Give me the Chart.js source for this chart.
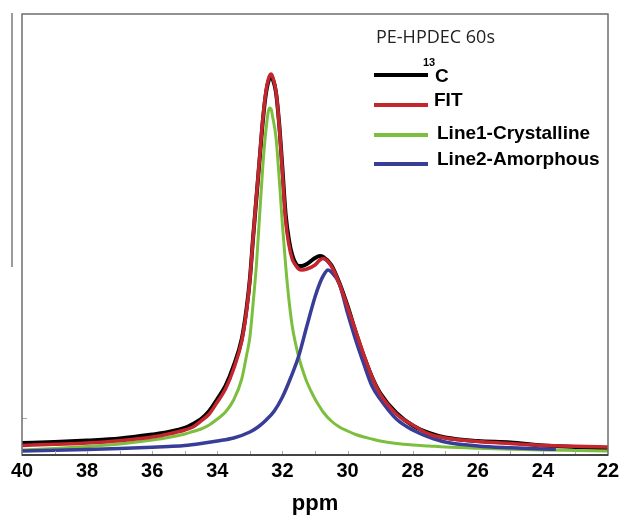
<!DOCTYPE html>
<html>
<head>
<meta charset="utf-8">
<script src="https://cdn.jsdelivr.net/npm/chart.js@4.4.0/dist/chart.umd.min.js"></script>
<style>
  body { margin: 0; background: #fff; }
  canvas { display: block; }
</style>
</head>
<body>
<canvas id="nmrChart" width="620" height="519"></canvas>
<script>
// chemical shift positions (ppm) and intensities (arbitrary units)
const ppmGrid = [40, 39, 38, 37, 36, 35.5, 35, 34.75, 34.5, 34.25, 34, 33.75, 33.5, 33.25, 33.1, 33, 32.9, 32.8, 32.7, 32.6,
                 32.5, 32.4, 32.35, 32.3, 32.2, 32.1, 32, 31.9, 31.8, 31.7, 31.6, 31.5, 31.4, 31.25, 31, 30.85, 30.75, 30.5,
                 30.25, 30, 29.75, 29.5, 29.25, 29, 28.5, 28, 27.5, 27, 26, 25, 24, 23, 22];

// measured 13C spectrum
const expValues = [12, 13, 14.5, 16.5, 20.5, 23, 27, 31, 36, 44, 56, 69, 89, 116, 147, 176, 218, 257, 296, 335,
                   363, 377, 379, 376, 363, 331, 286, 240, 215, 200, 192, 189, 189, 191, 197, 199, 198, 190,
                   172, 149, 123, 99, 78, 62, 42, 29.5, 22, 17.5, 14, 12.5, 9.5, 8, 6.5];

// total fit
const fitValues = [9.5, 10.7, 12, 14.3, 18, 21, 25, 28, 34, 41, 53, 66, 86, 114, 145, 175, 218, 258, 298, 337,
                   365, 379, 381, 378, 364, 330, 282, 234, 210, 196, 190, 186, 185, 186, 190, 195, 196.5, 189,
                   171, 148, 124, 100, 78, 61, 41, 30, 21, 17, 13.5, 11.5, 9.7, 8.7, 8];

// Line1 - crystalline component
const crystValues = [5, 6.5, 8.5, 11, 15, 17.5, 21, 23.5, 26, 30, 36, 43, 55, 76, 100, 118, 152, 190, 240, 290,
                     327, 347, 346, 338, 318, 277, 230, 189, 155, 129, 112, 98, 87, 73, 56, 48, 43, 34,
                     28, 24, 20.5, 18, 16, 14, 11.5, 10, 9, 8, 6.7, 5.7, 5, 4.5, 4];

// Line2 - amorphous component (stops near 23.6 ppm)
const amorphPpm = [40, 39, 38, 37, 36, 35.5, 35, 34.5, 34, 33.5, 33, 32.75, 32.5, 32.25, 32, 31.75, 31.5, 31.25, 31,
                   30.85, 30.75, 30.6, 30.5, 30.25, 30, 29.75, 29.5, 29.25, 29, 28.5, 28, 27.5, 27, 26, 25, 24, 23.6];
const amorphValues = [4, 4.7, 5.5, 6.5, 7.7, 8.5, 9.5, 11.5, 14, 17, 23, 28, 35, 44, 58, 77, 99, 129, 158,
                      172, 179, 185, 183, 171, 142, 115, 91, 69, 56, 36, 25, 18, 13, 9, 7.2, 6, 5.7];

const xTicks = [40, 38, 36, 34, 32, 30, 28, 26, 24, 22];
const minorTicks = [39, 38, 37, 36, 35, 34, 33, 32, 31, 30, 29, 28, 27, 26, 25, 24, 23];

const seriesLabels = ['13C', 'FIT', 'Line1-Crystalline', 'Line2-Amorphous'];
const seriesColors = ['#000000', '#c4262e', '#7cbf3f', '#383e98'];

function pts(xs, ys) {
    return xs.map((x, i) => ({ x: x, y: ys[i] }));
}

// box, inner ticks, stray bar and the in-plot legend
const decorations = {
    id: 'decorations',
    afterDraw(chart) {
        const ctx = chart.ctx;
        const a = chart.chartArea;
        const xs = chart.scales.x;
        const ys = chart.scales.y;
        ctx.save();

        // little ticks pointing into the plot
        ctx.strokeStyle = '#a8a8a8';
        ctx.lineWidth = 1;
        minorTicks.forEach(p => {
            const x = Math.round(xs.getPixelForValue(p)) + 0.5;
            ctx.beginPath();
            ctx.moveTo(x, a.bottom);
            ctx.lineTo(x, a.bottom - 4);
            ctx.stroke();
        });
        const yt = Math.round(ys.getPixelForValue(37)) + 0.5;
        ctx.beginPath();
        ctx.moveTo(a.left, yt);
        ctx.lineTo(a.left + 5, yt);
        ctx.stroke();

        // frame
        ctx.strokeStyle = '#6e6e6e';
        ctx.lineWidth = 1.5;
        ctx.strokeRect(a.left, a.top, a.right - a.left, a.bottom - a.top);
        ctx.strokeStyle = '#444';
        ctx.lineWidth = 2;
        ctx.beginPath();
        ctx.moveTo(a.left, a.bottom);
        ctx.lineTo(a.right, a.bottom);
        ctx.stroke();

        // grey bar at the far left
        ctx.strokeStyle = '#7a7a7a';
        ctx.lineWidth = 1.5;
        ctx.beginPath();
        ctx.moveTo(12, 13);
        ctx.lineTo(12, 267);
        ctx.stroke();

        // legend
        ctx.fillStyle = '#222';
        ctx.font = '18px "Open Sans"';
        ctx.textBaseline = 'middle';
        ctx.textAlign = 'left';
        ctx.fillText('PE-HPDEC 60s', 376, 38);

        const rows = [75, 105, 135, 164];
        const textY = [77, 101, 134, 160];
        ctx.lineWidth = 4;
        rows.forEach((y, i) => {
            ctx.strokeStyle = seriesColors[i];
            ctx.beginPath();
            ctx.moveTo(374, y);
            ctx.lineTo(428, y);
            ctx.stroke();
        });
        ctx.fillStyle = '#000';
        ctx.font = 'bold 11px "Liberation Sans"';
        ctx.fillText('13', 423, 63);
        ctx.font = 'bold 19px "Liberation Sans"';
        ctx.fillText('C', 435, textY[0]);
        ctx.fillText(seriesLabels[1], 434, textY[1]);
        ctx.fillText(seriesLabels[2], 437, textY[2]);
        ctx.fillText(seriesLabels[3], 437, textY[3]);
        ctx.restore();
    }
};

const lineStyle = {
    pointRadius: 0,
    fill: false,
    cubicInterpolationMode: 'monotone'
};

new Chart(document.getElementById('nmrChart'), {
    type: 'line',
    data: {
        datasets: [
            Object.assign({ label: seriesLabels[0], data: pts(ppmGrid, expValues), borderColor: seriesColors[0], borderWidth: 4, order: 3 }, lineStyle),
            Object.assign({ label: seriesLabels[2], data: pts(ppmGrid, crystValues), borderColor: seriesColors[2], borderWidth: 3, order: 2 }, lineStyle),
            Object.assign({ label: seriesLabels[3], data: pts(amorphPpm, amorphValues), borderColor: seriesColors[3], borderWidth: 3.5, order: 1 }, lineStyle),
            Object.assign({ label: seriesLabels[1], data: pts(ppmGrid, fitValues), borderColor: seriesColors[1], borderWidth: 3.5, order: 0 }, lineStyle)
        ]
    },
    options: {
        responsive: false,
        animation: false,
        layout: { padding: { left: 22, right: 12, top: 14, bottom: 0 } },
        plugins: {
            legend: { display: false },
            tooltip: { enabled: false }
        },
        scales: {
            x: {
                type: 'linear',
                reverse: true,
                min: 22,
                max: 40,
                afterBuildTicks: s => { s.ticks = xTicks.map(v => ({ value: v })); },
                afterFit: s => {
                    s.height = 64;
                    s.paddingLeft = 0;
                    s.paddingRight = 0;
                },
                grid: { display: false, drawTicks: false },
                border: { display: false },
                ticks: {
                    color: '#000',
                    padding: 4,
                    maxRotation: 0,
                    font: { family: '"Liberation Sans", Arial', size: 20, weight: 'bold' }
                },
                title: {
                    display: true,
                    text: 'ppm',
                    color: '#000',
                    padding: { top: 0, bottom: 2 },
                    font: { family: '"Liberation Sans", Arial', size: 22, weight: 'bold' }
                }
            },
            y: {
                display: false,
                min: 0,
                max: 441
            }
        }
    },
    plugins: [decorations]
});
</script>
</body>
</html>
